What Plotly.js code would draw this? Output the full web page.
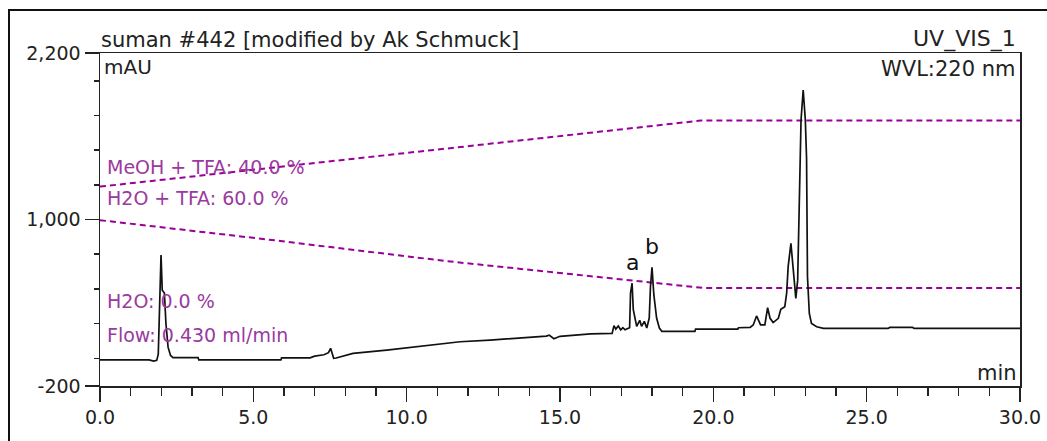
<!DOCTYPE html>
<html>
<head>
<meta charset="utf-8">
<script src="https://cdn.plot.ly/plotly-3.0.1.min.js"></script>
<style>html,body{margin:0;padding:0;background:#fff;}#chart{width:1047px;height:441px;}</style>
</head>
<body>
<div id="chart"></div>
<script>
// Chromatogram (UV_VIS_1, 220 nm): retention time (min) and absorbance (mAU)
const timeMin = [0, 1.6, 1.75, 1.85, 1.9, 1.95, 1.99, 2.03, 2.1, 2.15, 2.22, 2.3, 2.38, 3.2, 3.22, 5.9, 5.92, 6.85, 7.0, 7.3, 7.45, 7.52, 7.56, 7.62, 7.7, 8.25, 9.35, 10.43, 11.74, 12.72, 13.9, 14.55, 14.65, 14.8, 15.0, 16.0, 16.7, 16.76, 16.82, 16.9, 16.98, 17.05, 17.12, 17.2, 17.27, 17.3, 17.35, 17.39, 17.45, 17.5, 17.6, 17.66, 17.75, 17.83, 17.91, 17.95, 18.0, 18.06, 18.15, 18.24, 18.32, 19.4, 19.42, 20.8, 20.82, 21.2, 21.3, 21.41, 21.54, 21.68, 21.77, 21.85, 21.95, 22.12, 22.2, 22.33, 22.39, 22.44, 22.53, 22.58, 22.69, 22.75, 22.79, 22.86, 22.93, 23.0, 23.04, 23.07, 23.13, 23.2, 23.37, 23.59, 25.7, 25.75, 26.5, 26.55, 30];
const absorbance = [-12, -12, -20, -15, 30, 480, 744, 490, 470, 250, 80, 20, 5, 5, -12, -12, 3, 3, 15, 25, 40, 72, 45, 0, 2, 35, 59, 88, 119, 131, 148, 160, 167, 141, 158, 176, 179, 235, 210, 232, 205, 220, 205, 212, 220, 470, 541, 350, 278, 230, 273, 230, 266, 218, 290, 517, 655, 458, 290, 218, 194, 194, 210, 210, 220, 222, 240, 305, 240, 240, 364, 288, 257, 288, 353, 372, 468, 660, 828, 684, 432, 563, 951, 1717, 1933, 1717, 1441, 587, 323, 251, 227, 215, 215, 222, 222, 215, 215];

// Gradient program, drawn on the same scale as the chromatogram
const gradMeohTime = [0, 19.6, 30];
const gradMeoh = [1237, 1713, 1713];
const gradH2oTime = [0, 5.5, 11.3, 17.1, 19.7, 30];
const gradH2o = [995, 855, 700, 565, 506, 506];

// Peak labels
const peakNames = ['a', 'b'];
const peakTimes = [17.35, 18.0];
const peakHeights = [541, 655];

// Axis ticks
const xTickVals = [0, 5, 10, 15, 20, 25, 30];
const xTickText = ['0.0', '5.0', '10.0', '15.0', '20.0', '25.0', '30.0'];
const yTickVals = [-200, 1000, 2200];
const yTickText = ['-200', '1,000', '2,200'];
const yMinorVals = [0, 250, 500, 750, 1250, 1500, 1750, 2000];

// Text labels
const titleLeft = 'suman #442 [modified by Ak Schmuck]';
const titleRight = 'UV_VIS_1';
const yUnit = 'mAU';
const wavelength = 'WVL:220 nm';
const xUnit = 'min';
const gradLabels = ['MeOH + TFA: 40.0 %', 'H2O + TFA: 60.0 %', 'H2O: 0.0 %', 'Flow: 0.430 ml/min'];

// ---- layout geometry (pixels) ----
const W = 1047, H = 441;
const L = 100, R = 27, T = 53, B = 55;
const pw = W - L - R, ph = H - T - B;
const px = x => (x - L) / pw;            // pixel -> paper x
const py = y => (H - B - y) / ph;        // pixel -> paper y

const font = 'DejaVu Sans, Verdana, sans-serif';
const purple = '#990099';
const purpleText = '#9a3a9e';

const traces = [
  {x: gradMeohTime, y: gradMeoh, mode: 'lines', line: {color: purple, width: 2, dash: '6px,4px'}, hoverinfo: 'skip'},
  {x: gradH2oTime, y: gradH2o, mode: 'lines', line: {color: purple, width: 2, dash: '6px,4px'}, hoverinfo: 'skip'},
  {x: timeMin, y: absorbance, mode: 'lines', line: {color: '#111111', width: 1.7}, hoverinfo: 'skip'}
];

const annotations = [
  {text: titleLeft, xref: 'paper', yref: 'paper', x: px(99), y: py(40), xanchor: 'left', yanchor: 'middle', showarrow: false, font: {family: font, size: 21, color: '#222'}},
  {text: titleRight, xref: 'paper', yref: 'paper', x: px(1018), y: py(39), xanchor: 'right', yanchor: 'middle', showarrow: false, font: {family: font, size: 22, color: '#222'}},
  {text: yUnit, xref: 'paper', yref: 'paper', x: px(102), y: py(67), xanchor: 'left', yanchor: 'middle', showarrow: false, font: {family: font, size: 20, color: '#222'}},
  {text: wavelength, xref: 'paper', yref: 'paper', x: px(1017), y: py(69), xanchor: 'right', yanchor: 'middle', showarrow: false, font: {family: font, size: 21, color: '#222'}},
  {text: xUnit, xref: 'paper', yref: 'paper', x: px(1019), y: py(373), xanchor: 'right', yanchor: 'middle', showarrow: false, font: {family: font, size: 21, color: '#222'}},
  {text: gradLabels[0], xref: 'paper', yref: 'paper', x: px(105), y: py(167), xanchor: 'left', yanchor: 'middle', showarrow: false, font: {family: font, size: 19, color: purpleText}},
  {text: gradLabels[1], xref: 'paper', yref: 'paper', x: px(105), y: py(198), xanchor: 'left', yanchor: 'middle', showarrow: false, font: {family: font, size: 19, color: purpleText}},
  {text: gradLabels[2], xref: 'paper', yref: 'paper', x: px(105), y: py(301), xanchor: 'left', yanchor: 'middle', showarrow: false, font: {family: font, size: 19, color: purpleText}},
  {text: gradLabels[3], xref: 'paper', yref: 'paper', x: px(105), y: py(335), xanchor: 'left', yanchor: 'middle', showarrow: false, font: {family: font, size: 19, color: purpleText}}
];
peakNames.forEach((n, i) => {
  annotations.push({text: n, x: peakTimes[i], y: peakHeights[i], xref: 'x', yref: 'y', xanchor: 'center', yanchor: 'bottom', yshift: 6, showarrow: false, font: {family: font, size: 22, color: '#111'}});
});

const layout = {
  width: W, height: H,
  margin: {l: L, r: R, t: T, b: B, pad: 0},
  paper_bgcolor: '#ffffff', plot_bgcolor: '#ffffff',
  showlegend: false,
  xaxis: {
    range: [0, 30], showgrid: false, zeroline: false,
    showline: true, mirror: true, linecolor: '#222', linewidth: 1.5,
    tickmode: 'array', tickvals: xTickVals, ticktext: xTickText,
    ticks: 'outside', ticklen: 14, tickwidth: 1.5, tickcolor: '#222',
    minor: {dtick: 1, tick0: 0, ticks: 'outside', ticklen: 8, tickwidth: 1.5, tickcolor: '#222', showgrid: false},
    tickfont: {family: font, size: 19, color: '#222'}
  },
  yaxis: {
    range: [-200, 2200], showgrid: false, zeroline: false,
    showline: true, mirror: true, linecolor: '#222', linewidth: 1.5,
    tickmode: 'array', tickvals: yTickVals, ticktext: yTickText,
    ticks: 'outside', ticklen: 14, tickwidth: 1.5, tickcolor: '#222',
    minor: {tickmode: 'array', tickvals: yMinorVals, ticks: 'outside', ticklen: 5, tickwidth: 1.5, tickcolor: '#222', showgrid: false},
    tickfont: {family: font, size: 19, color: '#222'}
  },
  annotations: annotations,
  shapes: [
    {type: 'rect', xref: 'paper', yref: 'paper', x0: px(9), x1: px(1070), y0: py(470), y1: py(10), line: {color: '#111', width: 2}, fillcolor: 'rgba(0,0,0,0)', layer: 'below'}
  ]
};

Plotly.newPlot('chart', traces, layout, {displayModeBar: false, staticPlot: true});
</script>
</body>
</html>
